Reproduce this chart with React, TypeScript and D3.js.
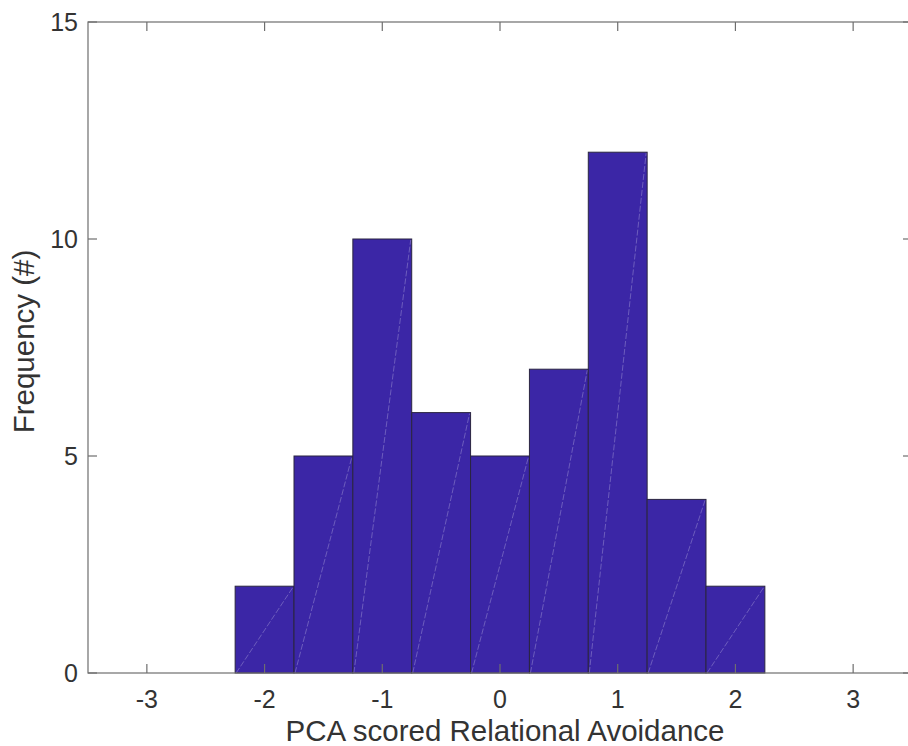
import { useEffect, useRef } from 'react';
import * as d3 from 'd3';

// histogram bins (edges) and counts
const binEdges = [-3.25, -2.75, -2.25, -1.75, -1.25, -0.75, -0.25, 0.25, 0.75, 1.25, 1.75, 2.25, 2.75, 3.25];
const counts = [0, 0, 2, 5, 10, 6, 5, 7, 12, 4, 2, 0, 0];
const xTicks = [-3, -2, -1, 0, 1, 2, 3];
const yTicks = [0, 5, 10, 15];

const App = () => {
  const svgRef = useRef<SVGSVGElement>(null);

  useEffect(() => {
    const width = 908;
    const height = 746;
    const margin = { top: 22, right: -4, bottom: 73, left: 88 };
    const font = 'Liberation Sans, Arial, Helvetica, sans-serif';
    const textColor = '#333';
    const axisColor = '#6e6e6e';

    const svg = d3.select(svgRef.current);
    svg.selectAll('*').remove();
    svg.attr('width', width).attr('height', height);

    const x = d3.scaleLinear()
      .domain([-3.5, 3.5])
      .range([margin.left, width - margin.right]);

    const y = d3.scaleLinear()
      .domain([0, 15])
      .range([height - margin.bottom, margin.top]);

    const bins = counts.map((c, i) => ({ x0: binEdges[i], x1: binEdges[i + 1], count: c }));

    const bars = svg.append('g');
    bars.selectAll('rect')
      .data(bins)
      .join('rect')
      .attr('x', d => x(d.x0))
      .attr('y', d => y(d.count))
      .attr('width', d => x(d.x1) - x(d.x0))
      .attr('height', d => y(0) - y(d.count))
      .attr('fill', '#3b26a6')
      .attr('stroke', '#2a2540')
      .attr('stroke-width', 1);

    // faint rendering seams seen in the original
    bars.selectAll('line.seam')
      .data(bins.filter(d => d.count > 0))
      .join('line')
      .attr('class', 'seam')
      .attr('x1', d => x(d.x0) + 1)
      .attr('y1', y(0))
      .attr('x2', d => x(d.x1) - 1)
      .attr('y2', d => y(d.count) + 1)
      .attr('stroke', '#ffffff')
      .attr('stroke-opacity', 0.25)
      .attr('stroke-width', 1)
      .attr('stroke-dasharray', '6,2');

    const x0 = x.range()[0], x1 = x.range()[1];
    const y0 = y.range()[0], y1 = y.range()[1];
    const tick = 9;

    const axes = svg.append('g')
      .attr('stroke', axisColor)
      .attr('stroke-width', 1.2)
      .attr('fill', 'none');

    axes.append('rect')
      .attr('x', x0).attr('y', y1)
      .attr('width', x1 - x0).attr('height', y0 - y1);

    xTicks.forEach(t => {
      axes.append('line').attr('x1', x(t)).attr('x2', x(t)).attr('y1', y0).attr('y2', y0 - tick);
      axes.append('line').attr('x1', x(t)).attr('x2', x(t)).attr('y1', y1).attr('y2', y1 + tick);
    });
    yTicks.forEach(t => {
      axes.append('line').attr('x1', x0).attr('x2', x0 + tick).attr('y1', y(t)).attr('y2', y(t));
      axes.append('line').attr('x1', x1).attr('x2', x1 - tick).attr('y1', y(t)).attr('y2', y(t));
    });

    svg.append('g')
      .selectAll('text')
      .data(xTicks)
      .join('text')
      .attr('x', d => x(d))
      .attr('y', y0 + 35)
      .attr('text-anchor', 'middle')
      .attr('font-family', font)
      .attr('font-size', 25)
      .attr('fill', textColor)
      .text(d => String(d));

    svg.append('g')
      .selectAll('text')
      .data(yTicks)
      .join('text')
      .attr('x', x0 - 10)
      .attr('y', d => y(d) + 9)
      .attr('text-anchor', 'end')
      .attr('font-family', font)
      .attr('font-size', 25)
      .attr('fill', textColor)
      .text(d => String(d));

    svg.append('text')
      .attr('x', 505)
      .attr('y', y0 + 68)
      .attr('text-anchor', 'middle')
      .attr('font-family', font)
      .attr('font-size', 29.5)
      .attr('fill', textColor)
      .text('PCA scored Relational Avoidance');

    svg.append('text')
      .attr('transform', `translate(34,${(y0 + y1) / 2 - 6}) rotate(-90)`)
      .attr('text-anchor', 'middle')
      .attr('font-family', font)
      .attr('font-size', 29.5)
      .attr('fill', textColor)
      .text('Frequency (#)');
  }, []);

  return (
    <div style={{ position: 'absolute', left: 0, top: 0, width: 908, height: 746, overflow: 'hidden', background: '#fff' }}>
      <svg ref={svgRef} style={{ display: 'block' }}></svg>
    </div>
  );
};

export default App;
